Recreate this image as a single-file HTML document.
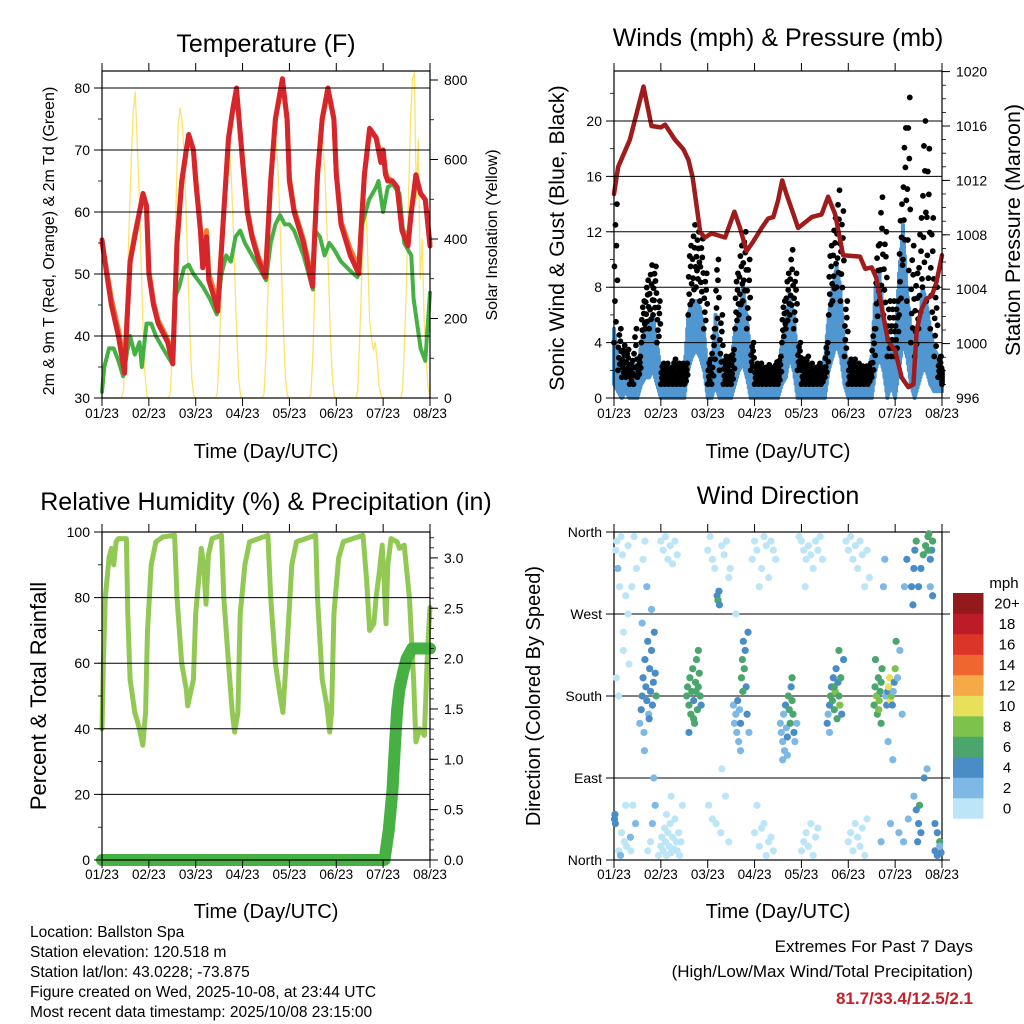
<!DOCTYPE html>
<html><head><meta charset="utf-8"><title>Station Meteogram</title>
<style>
html,body{margin:0;padding:0;background:#fff;}
svg{display:block;font-family:"Liberation Sans",sans-serif;}
</style></head>
<body>
<svg id="root" width="1024" height="1024" viewBox="0 0 1024 1024" xmlns="http://www.w3.org/2000/svg">
<rect x="0" y="0" width="1024" height="1024" fill="#fff"/>
<text x="266" y="52" font-size="25" text-anchor="middle">Temperature (F)</text>
<text x="778" y="46" font-size="25" text-anchor="middle">Winds (mph) &amp; Pressure (mb)</text>
<text x="266" y="510" font-size="25" text-anchor="middle">Relative Humidity (%) &amp; Precipitation (in)</text>
<text x="778" y="504" font-size="25" text-anchor="middle">Wind Direction</text>

<text transform="translate(54,241) rotate(-90)" font-size="16" text-anchor="middle">2m &amp; 9m T (Red, Orange) &amp; 2m Td (Green)</text>
<text transform="translate(497,235) rotate(-90)" font-size="16" text-anchor="middle">Solar Insolation (Yellow)</text>
<text transform="translate(564,238) rotate(-90)" font-size="21.3" text-anchor="middle">Sonic Wind &amp; Gust (Blue, Black)</text>
<text transform="translate(1020,230) rotate(-90)" font-size="21.5" text-anchor="middle">Station Pressure (Maroon)</text>
<text transform="translate(46,696) rotate(-90)" font-size="22" text-anchor="middle">Percent &amp; Total Rainfall</text>
<text transform="translate(540,696) rotate(-90)" font-size="20" text-anchor="middle">Direction (Colored By Speed)</text>

<text x="266" y="458" font-size="20" text-anchor="middle">Time (Day/UTC)</text>
<text x="778" y="458" font-size="20" text-anchor="middle">Time (Day/UTC)</text>
<text x="266" y="918" font-size="20" text-anchor="middle">Time (Day/UTC)</text>
<text x="778" y="918" font-size="20" text-anchor="middle">Time (Day/UTC)</text>

<g font-size="15.5">
<text x="30" y="937">Location: Ballston Spa</text>
<text x="30" y="957">Station elevation: 120.518 m</text>
<text x="30" y="977">Station lat/lon: 43.0228; -73.875</text>
<text x="30" y="997">Figure created on Wed, 2025-10-08, at 23:44 UTC</text>
<text x="30" y="1017">Most recent data timestamp: 2025/10/08 23:15:00</text>
</g>
<g font-size="17" text-anchor="end">
<text x="973" y="952">Extremes For Past 7 Days</text>
<text x="973" y="977">(High/Low/Max Wind/Total Precipitation)</text>
<text x="973" y="1004" fill="#c8202a" font-weight="bold">81.7/33.4/12.5/2.1</text>
</g>
<text x="1004" y="588" font-size="15" text-anchor="middle">mph</text>
</svg>
<script>
// ---------- data ----------
const dayLabels = ["01/23","02/23","03/23","04/23","05/23","06/23","07/23","08/23"];
const tempTicks = [30,40,50,60,70,80];
const solarTicks = [0,200,400,600,800];
const windTicks = [0,4,8,12,16,20];
const presTicks = [996,1000,1004,1008,1012,1016,1020];
const rhTicks = [0,20,40,60,80,100];
const rainTicks = ["0.0","0.5","1.0","1.5","2.0","2.5","3.0"];
const dirTicks = [0,90,180,270,360];
const dirLabels = ["North","East","South","West","North"];

const t2Time = [0,0.1,0.2,0.35,0.48,0.55,0.6,0.7,0.8,0.875,0.95,1.0,1.1,1.2,1.4,1.51,1.6,1.7,1.8,1.85,1.95,2.0,2.1,2.15,2.23,2.28,2.4,2.47,2.6,2.7,2.8,2.87,3.0,3.1,3.2,3.35,3.49,3.6,3.7,3.85,3.95,4.0,4.1,4.3,4.49,4.6,4.7,4.82,4.95,5.0,5.1,5.3,5.48,5.55,5.6,5.71,5.85,5.95,6.0,6.05,6.1,6.2,6.3,6.4,6.53,6.6,6.7,6.8,6.9,7.0];
const t2Val = [55.5,50,45,40,34,45,52,56,60,63,61,50,45,42,39,35.5,55,65,70,72.5,70,65,57,51,56,49,46,44,60,72,77,80,68,60,56,52,49.5,65,75,81.5,75,65,60,55,48,66,75,80,75,66,58,53,50,60,66,73.5,72,68,70,66,65,65,64,57,54.5,60,66,63,62,54.5];
const t9Val = [55,50.5,46,41,35.5,45,52,56.5,60,62.5,61,50.5,45.5,42.5,39.5,36.5,55,64.5,70,72,70,65.5,57.5,52,57,50,47,45,60,71.5,77,79.5,68.5,60.5,56.5,52.5,50.5,65,75,81,75,65.5,60.5,55.5,49,66,75,79.5,75,66.5,58.5,54,51,60,66,73,72,69,70,66.5,65.5,65,64,57.5,55.5,60,65.5,63,62,55];
const tdTime = [0,0.05,0.15,0.25,0.35,0.45,0.55,0.6,0.7,0.8,0.85,0.95,1.05,1.15,1.3,1.5,1.55,1.65,1.75,1.85,1.95,2.05,2.15,2.3,2.45,2.55,2.65,2.75,2.85,2.95,3.05,3.2,3.35,3.5,3.6,3.7,3.8,3.9,4.0,4.1,4.3,4.5,4.55,4.65,4.75,4.85,4.95,5.1,5.3,5.45,5.55,5.7,5.85,5.9,6.0,6.1,6.2,6.35,6.45,6.6,6.65,6.8,6.9,7.0];
const tdVal = [31,35,38,38,36,33.5,38,40,37,39,35,42,42,40,38,35.5,46,48,51,51.5,50,49,48,46,43.5,50,53,52,56,57,55,53,51,49,55,58,59.5,58,58,57,53,47.5,57,56,53,55,54,52,50.5,49.5,58,62,64,65,60,64,64.5,63,55,53,46,38,36,47];
const solarVal = [
 0,0,0,0,0,0,0,0,0,0,0,20,150,300,450,600,720,770,650,520,350,180,60,5,
 0,0,0,0,0,0,0,0,0,0,0,10,120,300,500,680,730,700,620,480,320,160,50,5,
 0,0,0,0,0,0,0,0,0,0,0,10,100,260,420,560,630,640,580,460,310,160,50,5,
 0,0,0,0,0,0,0,0,0,0,0,10,110,270,430,570,640,650,590,460,310,160,50,5,
 0,0,0,0,0,0,0,0,0,0,0,10,110,270,430,570,640,645,580,460,310,160,50,5,
 0,0,0,0,0,0,0,0,0,0,0,20,150,300,420,500,380,200,150,120,140,90,30,5,
 0,0,0,0,0,0,0,0,0,0,20,150,300,500,700,800,820,500,650,300,400,200,100,30,
 0];

const windHi = [5,3,2.5,2.5,2,2.5,2,4,5,5.5,6,4, 2,2,1.8,2,2,2,2,6,7,7,6.5,5, 2,2,6,3,2.5,2.5,2.5,5,6,8,6,3, 2,1.8,1.8,1.8,1.8,2,2,4,5.5,7.5,6,3, 2,2,1.8,1.8,2,2,3,6,8,9.5,8,4, 2,2,1.8,1.8,1.8,2,3,8,9,6,3.5,4, 4,9,12.5,8,5,4,4.5,8,7,5,3.5,3,1.5];
const windLo = [1,0.5,0,0.5,0,0,0,1,1.5,1.5,2,1, 0,0,0,0,0,0,0,2,3,3.5,3,2, 0,0,1,0,0,0,0,1,2,2.5,1.5,0, 0,0,0,0,0,0,0,1,1.5,3,2,0, 0,0,0,0,0,0,0,2,3,4,3,1, 0,0,0,0,0,0,0,2,3,2,0,1, 0,2,4,3,1,0,1,2,2,1,0.5,0.5,0.5];
const gustHi = [14,5,3.8,3.5,2.7,5,3,7,8.5,9.6,9.5,7, 2.5,2.5,2.2,2.8,2.5,2.5,2.5,11,12.5,12,11.5,9, 2.8,5,10,6,3,3,3.5,9,11,12,10,4, 2.5,2.5,2.2,2.4,2.2,2.6,3,7,9,10.7,9,4, 2.8,3,2.5,2.2,2.5,2.2,4,11,13,15,13.5,7, 2.8,2.8,2.5,2.3,2.3,2.5,5,11,14.5,12,7,7, 7,14,19.5,21.7,11,9,13,20,18,13,8,3,2];
const gustLo = [4,2,1.5,1.5,1,1,1.5,4,5,5,6,4, 1,1,1,1,1,1,1,6,7,8,7,5, 1,1,5,2,1,1,1,5,6,7,5,2, 1,1,1,1,1,1,1,4,5,6,5,2, 1,1,1,1,1,1,1.5,6,7,8,7,3, 1,1,1,1,1,1,1.5,5,7,6,3,3, 3,6,10,7,4,3,5,8,7,5,3,1.5,1];
const presTime = [0,0.09,0.34,0.63,0.8,1.0,1.09,1.3,1.48,1.59,1.68,1.84,1.94,2.08,2.37,2.57,2.69,2.83,2.97,3.15,3.29,3.4,3.5,3.59,3.68,3.83,3.93,4.22,4.43,4.57,4.72,4.89,5.25,5.36,5.5,5.6,5.75,5.85,6.0,6.14,6.28,6.39,6.46,6.56,6.67,6.78,6.88,7.0];
const presVal = [1011,1013,1015,1018.9,1016,1015.9,1016.1,1015,1014.3,1013.5,1012.2,1008.2,1007.8,1008.1,1007.8,1009.7,1008.5,1006.8,1007.5,1008.5,1009.2,1009.3,1010.5,1012,1011,1009.5,1008.5,1009.3,1009.5,1010.8,1009.5,1006.5,1006.4,1005.5,1005.6,1004.8,1002,1000.2,999.5,997.5,996.8,997,1001,1002.5,1003.3,1003.5,1004.5,1006.5];

const rhTime = [0,0.03,0.07,0.15,0.2,0.25,0.3,0.35,0.52,0.55,0.6,0.7,0.8,0.87,0.93,0.97,1.05,1.15,1.3,1.55,1.6,1.7,1.8,1.83,1.95,2.0,2.12,2.17,2.22,2.27,2.35,2.55,2.6,2.7,2.78,2.83,2.9,2.95,3.05,3.15,3.54,3.6,3.7,3.8,3.86,3.95,4.05,4.15,4.56,4.6,4.7,4.8,4.86,4.9,4.95,5.05,5.15,5.57,5.65,5.71,5.8,5.85,5.92,5.98,6.02,6.06,6.1,6.17,6.3,6.35,6.45,6.56,6.65,6.7,6.78,6.88,6.95,7.0];
const rhVal = [40,60,80,92,95,90,97,98,98,75,55,45,40,35,45,70,90,97,98.5,99,80,60,52,47,55,75,95,90,78,93,98,99,80,60,45,39,45,75,90,97,99,80,60,50,45,65,90,97,99,80,55,47,39,45,75,92,97,99,85,70,72,80,88,96,85,72,90,98,97,95,96,80,55,36,40,38,65,77];
const rainTime = [0,6.03,6.12,6.2,6.26,6.3,6.35,6.42,6.5,6.62,7.0];
const rainVal = [0,0,0.3,0.7,1.2,1.5,1.7,1.85,2.0,2.1,2.1];

const dirTime = [
 .01,.02,.03,.04,.06,.08,.10,.12,.14,.16, .18,.20,.22,.25,.27,.30,.32,.35,.38,.40, .43,.46,.48,.10,.20,.30,.05,.36,.15,.25,
 .55,.58,.60,.62,.64,.66,.68,.70,.72,.74, .76,.78,.80,.82,.84,.86,.88,.90,.60,.70, .80,.65,.75,.85,.62,.72,.82,.66,.78,.88,
 .95,1.0,1.02,1.05,1.08,1.1,1.12,1.15,1.18,1.2, 1.22,1.25,1.28,1.3,1.33,1.35,1.38,1.4,1.43,1.46, 1.0,1.05,1.1,1.15,1.2,1.25,1.3,1.35,1.12,1.22,
 1.55,1.57,1.6,1.62,1.64,1.66,1.68,1.7,1.72,1.74, 1.76,1.78,1.8,1.82,1.84,1.86,1.6,1.7,1.8,1.75,
 2.0,2.05,2.1,2.15,2.2,2.22,2.24,2.25,2.3,2.35, 2.4,2.45,2.48,2.02,2.1,2.18,2.28,2.38,2.45,2.3,
 2.55,2.57,2.6,2.62,2.64,2.66,2.68,2.7,2.72,2.74, 2.76,2.78,2.8,2.82,2.84,2.86,2.88,2.7,2.75,2.6,
 2.95,3.0,3.05,3.1,3.15,3.2,3.25,3.3,3.35,3.4, 3.45,3.0,3.1,3.2,3.3,3.4,3.05,3.15,3.25,3.35,
 3.55,3.57,3.6,3.62,3.64,3.66,3.68,3.7,3.72,3.74, 3.76,3.78,3.8,3.82,3.84,3.86,3.6,3.7,3.8,3.9,
 3.95,4.0,4.05,4.1,4.15,4.2,4.25,4.3,4.35,4.4, 4.45,4.0,4.05,4.1,4.15,4.2,4.25,4.3,4.35,4.08,
 4.55,4.57,4.6,4.62,4.64,4.66,4.68,4.7,4.72,4.74, 4.76,4.78,4.8,4.82,4.84,4.86,4.6,4.7,4.8,4.9,
 4.95,5.0,5.05,5.1,5.15,5.2,5.25,5.3,5.35,5.4, 5.45,5.0,5.05,5.1,5.15,5.2,5.25,5.3,5.35,5.4,
 5.55,5.57,5.6,5.62,5.64,5.66,5.68,5.7,5.72,5.58, 5.65,5.7,5.8,5.82,5.84,5.86,5.88,5.9,5.92,5.94, 5.96,5.98,6.0,6.02,5.85,5.95,5.75,5.78,5.7,5.9,
 6.05,6.1,6.15,6.2,6.25,6.08,6.18,6.28,6.35,6.38, 6.4,6.42,6.45,6.48,6.5,6.52,6.55,6.4,6.45,6.5, 6.55,6.6,6.65,6.7,6.72,6.75,6.78,6.8,6.85,6.9, 6.95,6.98,6.7,6.75,6.8,6.85,6.9,6.95,6.62,6.68];
const dirDeg = [
 45,50,40,340,350,320,10,300,5,30, 335,250,20,290,15,345,215,25,300,60, 355,40,320,180,230,270,200,10,355,60,
 150,165,180,200,140,220,190,175,240,160, 210,185,230,170,195,250,205,180,260,300, 275,120,155,90,330,10,40,350,20,60,
 5,15,25,10,35,20,5,30,15,40, 8,25,12,45,20,10,30,5,20,60, 350,340,355,330,345,325,350,335,50,70,
 180,190,170,200,160,185,210,175,150,195, 220,165,190,205,180,170,140,155,230,185,
 340,355,330,320,290,285,295,280,345,335, 350,310,320,60,45,40,30,70,20,100,
 170,150,160,140,175,130,165,150,200,220, 240,210,230,190,160,250,140,120,185,270,
 330,350,340,300,320,355,345,310,350,340, 330,30,15,40,20,10,60,35,5,25,
 150,140,130,160,120,170,145,135,180,165, 150,190,175,160,140,130,110,115,200,150,
 355,350,340,330,345,335,320,350,340,355, 330,10,20,30,15,40,5,25,35,300,
 150,160,170,180,190,175,200,165,185,210, 155,195,180,170,200,160,140,190,230,220,
 350,340,355,330,345,320,350,335,300,340, 310,20,30,10,40,25,15,35,5,45,
 170,190,180,160,200,175,185,150,210,220, 165,195,180,170,185,190,200,175,180,170, 185,195,210,240,130,110,300,330,20,40,
 200,230,160,300,330,30,20,45,300,280, 320,340,350,20,40,60,30,70,55,300, 320,335,345,355,358,330,340,350,10,5, 20,8,340,300,290,40,30,15,90,100];
const dirSpeed = [
 5,5,4,1,1,3,1,1,2,1, 1,1,1,1,1,1,1,2,1,1, 1,3,1,1,1,1,1,1,1,1,
 3,4,5,4,3,5,4,4,5,3, 4,5,4,4,5,4,4,6,2,2, 3,3,4,3,1,1,2,1,1,3,
 1,1,1,1,1,1,1,1,1,1, 1,1,1,1,1,1,1,1,1,1, 1,1,1,1,1,1,1,1,1,1,
 6,6,7,6,6,7,6,5,6,7, 6,6,6,7,6,5,4,6,6,7,
 1,1,1,1,5,6,4,4,1,1, 1,1,1,1,1,1,1,1,1,1,
 3,3,2,3,4,2,3,4,6,6, 5,7,5,5,4,4,3,2,6,1,
 1,1,1,1,1,1,1,1,1,1, 1,1,1,1,1,1,1,1,1,1,
 2,2,3,3,2,4,3,5,6,6, 7,5,6,6,4,3,2,2,6,2,
 1,1,1,1,1,1,1,1,1,1, 1,1,1,1,1,1,1,1,1,1,
 4,3,5,6,4,7,5,6,8,5, 6,4,7,8,6,5,3,6,7,4,
 1,1,1,1,1,1,1,1,1,1, 1,1,1,1,1,1,1,1,1,1,
 6,7,8,6,7,8,6,6,7,6, 8,7,3,4,4,10,11,10,9,4, 3,4,8,7,2,2,3,3,2,3,
 2,2,3,3,4,3,2,3,4,5, 4,5,6,4,5,6,4,3,4,5, 4,6,7,7,6,5,4,6,5,4, 6,4,6,3,4,5,4,3,4,2];

const cbColors = ["#bde5f8","#7db9e4","#4a8dc6","#4aa66c","#7cc24b","#e6e05a","#f6a947","#ef6630","#dc3428","#bb1c25","#931a1c"];
const cbLabels = ["0","2","4","6","8","10","12","14","16","18","20+"];

// ---------- helpers ----------
const NS = "http://www.w3.org/2000/svg";
const root = document.getElementById("root");
function mk(tag, attrs, parent) {
  const e = document.createElementNS(NS, tag);
  for (const k in attrs) e.setAttribute(k, attrs[k]);
  (parent || root).appendChild(e);
  return e;
}
const P1 = {x0:102, x1:430, y0:71, y1:398};
const P2 = {x0:614, x1:942, y0:71, y1:398};
const P3 = {x0:102, x1:430, y0:532, y1:860};
const P4 = {x0:614, x1:942, y0:532, y1:860};
function xDay(P, d) { return P.x0 + d * (P.x1 - P.x0) / 7; }
const tempY = v => 398 - (v - 30) * 6.2;
const solarY = v => 398 - v * 0.3975;
const windY = v => 398 - v * 13.85;
const presY = v => 398 - (v - 996) * 13.6;
const rhY = v => 860 - v * 3.28;
const rainY = v => 860 - v * 100.7;
const dirY = v => 860 - v * 82 / 90;

function polyline(P, times, vals, yf, stroke, width, name) {
  const n = Math.min(times.length, vals.length);
  const pts = [];
  for (let i = 0; i < n; i++) pts.push(xDay(P, times[i]).toFixed(1) + "," + yf(vals[i]).toFixed(1));
  const e = mk("polyline", {points: pts.join(" "), fill: "none", stroke: stroke, "stroke-width": width, "stroke-linejoin": "round", "stroke-linecap": "round"});
  
  
  return e;
}

function drawAxes(P, key, bottomLabelY) {
  for (let d = 0; d < dayLabels.length; d++) {
    const x = xDay(P, d);
    const tb = mk("line", {x1:x, y1:P.y1, x2:x, y2:P.y1 + 8, stroke:"#000", "stroke-width":1});
    
    
    const tt = mk("line", {x1:x, y1:P.y0 - 8, x2:x, y2:P.y0, stroke:"#000", "stroke-width":1});
    
    
    const lb = mk("text", {x:x, y:bottomLabelY, "font-size":13.5, "text-anchor":"middle"});
    
    
    lb.textContent = dayLabels[d];
  }
  const fr = mk("rect", {x:P.x0, y:P.y0, width:P.x1 - P.x0, height:P.y1 - P.y0, fill:"none", stroke:"#000", "stroke-width":1.2});
  
  
}
function leftTicks(P, key, ticks, labels, yf, minorStep, minorMin, minorMax, grid) {
  for (let v = minorMin; v <= minorMax + 1e-9; v += minorStep) {
    const y = yf(v);
    const m = mk("line", {x1:P.x0 - 4, y1:y, x2:P.x0, y2:y, stroke:"#000", "stroke-width":0.8});
    
    
  }
  for (let i = 0; i < ticks.length; i++) {
    const y = yf(ticks[i]);
    const g = mk("line", {x1:P.x0 - 8, y1:y, x2: grid ? P.x1 : P.x0, y2:y, stroke:"#000", "stroke-width":1});
    
    
    const t = mk("text", {x:P.x0 - 12, y:y + 5, "font-size":14, "text-anchor":"end"});
    
    
    t.textContent = labels[i];
  }
}
function rightTicks(P, key, ticks, labels, yf, minorStep, minorMin, minorMax) {
  for (let v = minorMin; v <= minorMax + 1e-9; v += minorStep) {
    const y = yf(v);
    const m = mk("line", {x1:P.x1, y1:y, x2:P.x1 + 4, y2:y, stroke:"#000", "stroke-width":0.8});
    
    
  }
  for (let i = 0; i < ticks.length; i++) {
    const y = yf(ticks[i]);
    const g = mk("line", {x1:P.x1, y1:y, x2:P.x1 + 8, y2:y, stroke:"#000", "stroke-width":1});
    
    
    const t = mk("text", {x:P.x1 + 14, y:y + 5, "font-size":14, "text-anchor":"start"});
    
    
    t.textContent = labels[i];
  }
}

// ---------- Panel 1: temperature ----------
const sTimes = solarVal.map((v, i) => i / 24);
polyline(P1, sTimes, solarVal, solarY, "#fce36a", 1.3, "solar-insolation-line");
polyline(P1, t2Time, t9Val, tempY, "#f27c2f", 5, "temp-9m-line");
polyline(P1, tdTime, tdVal, tempY, "#45b043", 4, "dewpoint-2m-line");
polyline(P1, t2Time, t2Val, tempY, "#d7262b", 5, "temp-2m-line");
leftTicks(P1, "temperature", tempTicks, tempTicks.map(String), tempY, 5, 30, 80, true);
rightTicks(P1, "solar", solarTicks, solarTicks.map(String), solarY, 100, 0, 800);
drawAxes(P1, "temperature", 418);

// ---------- Panel 2: winds ----------
for (let i = 0; i < windHi.length; i++) {
  const x = xDay(P2, i / 12);
  const x2 = xDay(P2, Math.min(i + 1, windHi.length - 1) / 12);
  for (let k = 0; k <= 4; k++) {
    const f = k / 4;
    const xx = x + (x2 - x) * f;
    const lo = windLo[i] + ((windLo[Math.min(i + 1, windLo.length - 1)] - windLo[i]) * f);
    const hi = windHi[i] + ((windHi[Math.min(i + 1, windHi.length - 1)] - windHi[i]) * f);
    const b = mk("line", {x1:xx, y1:windY(lo), x2:xx, y2:windY(hi), stroke:"#5096d0", "stroke-width":4, "stroke-linecap":"round"});
    
    
  }
}
const gustFrac = [0, 0.55, 0.3, 0.85, 0.15, 0.7, 1.0, 0.45];
for (let i = 0; i < gustHi.length; i++) {
  const x = xDay(P2, i / 12);
  const x2 = xDay(P2, Math.min(i + 1, gustHi.length - 1) / 12);
  for (let k = 0; k < gustFrac.length; k++) {
    const xx = x + (x2 - x) * (k / gustFrac.length);
    const v = gustLo[i] + (gustHi[i] - gustLo[i]) * gustFrac[k];
    const c = mk("circle", {cx:xx, cy:windY(v), r:2.9, fill:"#000"});
    
    
  }
}
polyline(P2, presTime, presVal, presY, "#a01b1c", 4.5, "pressure-line");
leftTicks(P2, "wind", windTicks, windTicks.map(String), windY, 2, 0, 22, true);
rightTicks(P2, "pressure", presTicks, presTicks.map(String), presY, 1, 996, 1020);
drawAxes(P2, "winds", 418);

// ---------- Panel 3: humidity & rain ----------
polyline(P3, rhTime, rhVal, rhY, "#92c955", 5, "relative-humidity-line");
polyline(P3, rainTime, rainVal, rainY, "#46b043", 12, "total-rainfall-line");
leftTicks(P3, "humidity", rhTicks, rhTicks.map(String), rhY, 10, 0, 100, true);
rightTicks(P3, "rainfall", rainTicks.map(Number), rainTicks, rainY, 0.1, 0, 3.2);
drawAxes(P3, "humidity", 879);

// ---------- Panel 4: wind direction ----------
leftTicks(P4, "direction", dirTicks, dirLabels, dirY, 90, 0, 360, true);
drawAxes(P4, "direction", 879);
const nDir = Math.min(dirTime.length, dirDeg.length, dirSpeed.length);
for (let i = 0; i < nDir; i++) {
  const bin = Math.max(0, Math.min(10, Math.floor(dirSpeed[i] / 2)));
  const c = mk("circle", {cx:xDay(P4, dirTime[i]), cy:dirY(dirDeg[i]), r:3.6, fill:cbColors[bin]});
  
  
}
for (let i = 0; i < dirTicks.length; i++) {
  const g = mk("line", {x1:P4.x1, y1:dirY(dirTicks[i]), x2:P4.x1 + 8, y2:dirY(dirTicks[i]), stroke:"#000", "stroke-width":1});
  
  
}
const cbTop = 593, cbH = 20.5;
for (let i = 0; i < cbColors.length; i++) {
  const y = cbTop + (cbColors.length - 1 - i) * cbH;
  const r = mk("rect", {x:953, y:y, width:30.5, height:cbH + 0.3, fill:cbColors[i]});
  
  
  const t = mk("text", {x:1007, y:y + cbH / 2 + 5, "font-size":15, "text-anchor":"middle"});
  
  
  t.textContent = cbLabels[i];
}
</script>
</body></html>
